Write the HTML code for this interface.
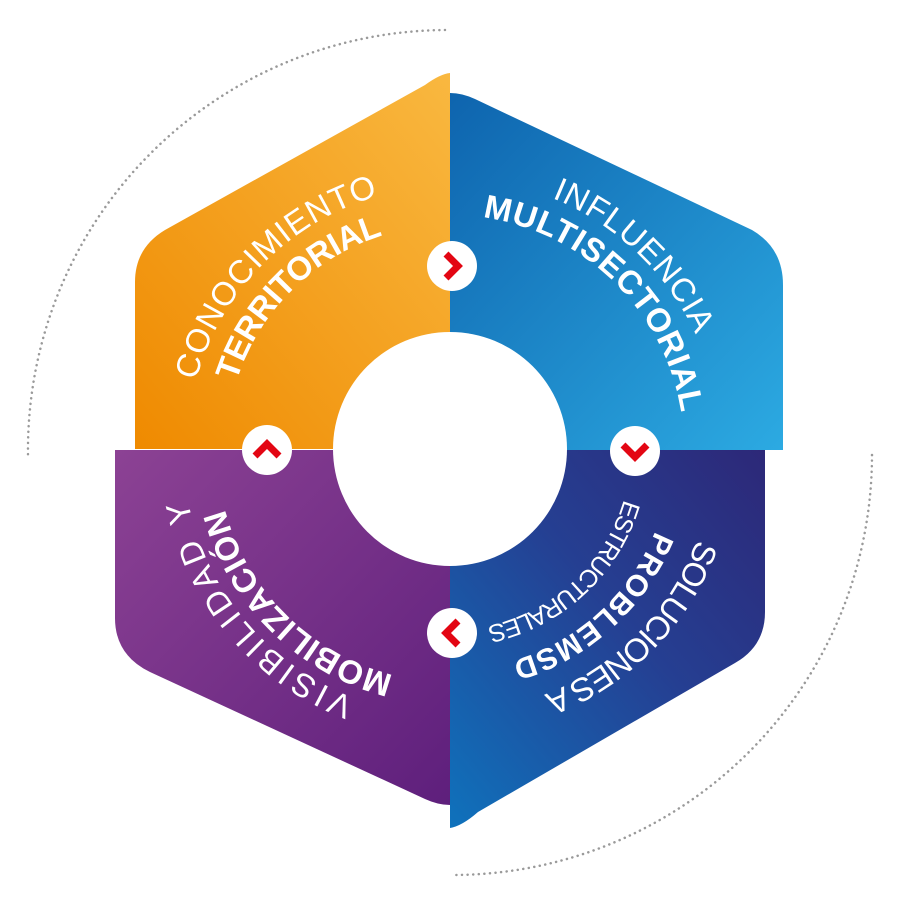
<!DOCTYPE html>
<html><head><meta charset="utf-8"><style>
html,body{margin:0;padding:0;background:#fff;}
svg{display:block}
text{font-family:"Liberation Sans",sans-serif;fill:#fff;}
.t{font-size:33px;font-weight:normal;}
.b{font-size:33px;font-weight:bold;}
.s{font-size:25px;}
</style></head><body>
<svg width="900" height="900" viewBox="0 0 900 900" xmlns="http://www.w3.org/2000/svg">
<defs>
<linearGradient id="go" x1="0" y1="1" x2="1" y2="0"><stop offset="0" stop-color="#EF8A00"/><stop offset="1" stop-color="#F9B840"/></linearGradient>
<linearGradient id="gb" x1="0" y1="0" x2="1" y2="1"><stop offset="0" stop-color="#0E64AE"/><stop offset="1" stop-color="#2CAAE2"/></linearGradient>
<linearGradient id="gd" x1="1" y1="0" x2="0" y2="1"><stop offset="0" stop-color="#2D2878"/><stop offset="0.45" stop-color="#253F92"/><stop offset="1" stop-color="#0F72BC"/></linearGradient>
<linearGradient id="gp" x1="0" y1="0" x2="1" y2="1"><stop offset="0" stop-color="#8C4294"/><stop offset="1" stop-color="#5E1F7C"/></linearGradient>
<path id="c263" d="M713,449 A263,263 0 1 1 187,449 A263,263 0 1 1 713,449"/>
<path id="c224" d="M674,449 A224,224 0 1 1 226,449 A224,224 0 1 1 674,449"/>
<path id="c271" d="M721,449 A271,271 0 1 1 179,449 A271,271 0 1 1 721,449"/>
<path id="c234" d="M684,449 A234,234 0 1 1 216,449 A234,234 0 1 1 684,449"/>
<path id="c221" d="M671,449 A221,221 0 1 1 229,449 A221,221 0 1 1 671,449"/>
<path id="c181" d="M631,449 A181,181 0 1 1 269,449 A181,181 0 1 1 631,449"/>
<path id="c233" d="M683,449 A233,233 0 1 1 217,449 A233,233 0 1 1 683,449"/>
<path id="c267" d="M717,449 A267,267 0 1 1 183,449 A267,267 0 1 1 717,449"/>
</defs>
<path d="M445,30 A420,420 0 0 0 28,455" fill="none" stroke="#9a9a9a" stroke-width="2.5" stroke-dasharray="0.1 5.5" stroke-linecap="round"/>
<path d="M872,455 A420,420 0 0 1 455,875" fill="none" stroke="#9a9a9a" stroke-width="2.5" stroke-dasharray="0.1 5.5" stroke-linecap="round"/>

<path d="M450,73 L450,449 L135,449 L135,282 Q135,248 165,230 L425,85 Q440,74 450,73 Z" fill="url(#go)"/>
<path d="M450,93 Q462,93 475,99 L752,230 Q783,248 783,285 L783,450 L450,450 Z" fill="url(#gb)"/>
<path d="M450,450 L765,450 L765,612 Q765,646 735,663 L478,812 Q462,826 450,828 Z" fill="url(#gd)"/>
<path d="M115,450 L450,450 L450,805 Q438,805 425,799 L150,672 Q115,655 115,618 Z" fill="url(#gp)"/>

<circle cx="450" cy="449" r="117" fill="#fff"/>

<text class="t"><textPath href="#c263" startOffset="895" textLength="271" lengthAdjust="spacing">CONOCIMIENTO</textPath></text>
<text class="b"><textPath href="#c224" startOffset="772" textLength="215" lengthAdjust="spacing">TERRITORIAL</textPath></text>
<text class="t"><textPath href="#c271" startOffset="1381" textLength="203" lengthAdjust="spacing">INFLUENCIA</textPath></text>
<text class="b"><textPath href="#c234" startOffset="1135" textLength="298" lengthAdjust="spacing">MULTISECTORIAL</textPath></text>
<text class="t"><textPath href="#c263" startOffset="92" textLength="225" lengthAdjust="spacing">SOLUCIONES A</textPath></text>
<text class="b" style="font-size:30px"><textPath href="#c221" startOffset="84" textLength="200" lengthAdjust="spacing">PROBLEMSD</textPath></text>
<text class="s"><textPath href="#c181" startOffset="51" textLength="196" lengthAdjust="spacing">ESTRUCTURALES</textPath></text>
<text class="b"><textPath href="#c233" startOffset="423" textLength="248" lengthAdjust="spacing">MOBILIZACIÓN</textPath></text>
<text class="t"><textPath href="#c267" startOffset="517" textLength="270" lengthAdjust="spacing">VISIBILIDAD Y</textPath></text>

<g fill="#fff">
<circle cx="452" cy="266" r="25"/>
<circle cx="635" cy="451" r="25"/>
<circle cx="452" cy="633" r="25"/>
<circle cx="267" cy="450" r="25"/>
</g>
<g fill="none" stroke="#E30613" stroke-width="7" stroke-linecap="butt" stroke-linejoin="miter">
<path d="M446,254 L458,266 L446,278"/>
<path d="M623,445 L635,457 L647,445"/>
<path d="M458,621 L446,633 L458,645"/>
<path d="M255,456 L267,444 L279,456"/>
</g>
</svg>
</body></html>
